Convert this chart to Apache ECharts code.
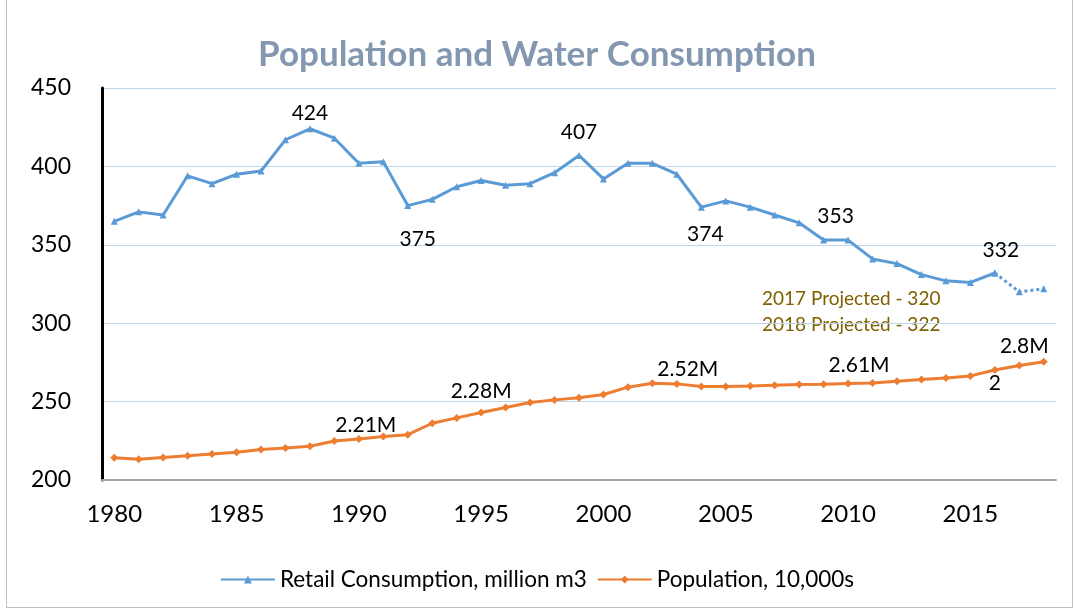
<!DOCTYPE html>
<html>
<head>
<meta charset="utf-8">
<script src="https://cdn.jsdelivr.net/npm/echarts@6/dist/echarts.min.js"></script>
<style>
html,body{margin:0;padding:0;background:#fff;}
#frame{position:absolute;left:6px;top:-2px;width:1065px;height:608px;border:1px solid #BFBFBF;}
#chart{width:1074px;height:608px;position:absolute;left:0;top:0;}
</style>
</head>
<body>
<div id="frame"></div>
<div id="chart"></div>
<script>
// ---- data ----
const years = [1980,1981,1982,1983,1984,1985,1986,1987,1988,1989,1990,1991,1992,1993,1994,1995,1996,1997,1998,1999,
  2000,2001,2002,2003,2004,2005,2006,2007,2008,2009,2010,2011,2012,2013,2014,2015,2016,2017,2018];
const consumption = [365,371,369,394,389,395,397,417,424,418,402,403,375,379,387,391,388,389,396,407,
  392,402,402,395,374,378,374,369,364,353,353,341,338,331,327,326,332,null,null];
const consumptionProjected = [320,322]; // 2017, 2018
const population = [214.2,213.3,214.3,215.5,216.6,217.7,219.4,220.4,221.5,224.9,226.2,227.7,228.9,236.2,239.6,243.0,246.2,249.4,251.1,252.4,
  254.5,259.2,261.7,261.3,259.6,259.6,260.0,260.5,260.9,261.1,261.5,261.9,263.0,264.1,265.1,266.4,270.2,273.0,275.4];
const consLabelYears = [1988,1992,1999,2004,2009,2016];
const consLabelTexts = ['424','375','407','374','353','332'];
const popLabelYears = [1990,1995,2003,2010,2016,2017];
const popLabelTexts = ['2.21M','2.28M','2.52M','2.61M','2','2.8M'];
const yTicks = {min:200, max:450, interval:50};
const titleText = 'Population and Water Consumption';
const seriesNames = ['Retail Consumption, million m3','Population, 10,000s'];
const notes = ['2017 Projected - 320','2018 Projected - 322'];

// ---- styles for labels (positions only) ----
const consLabelStyle = {
  1988:{position:'top',offset:[0,3]},
  1992:{position:'bottom',offset:[10,15]},
  1999:{position:'top',offset:[0,-4]},
  2004:{position:'bottom',offset:[4,8]},
  2009:{position:'top',offset:[12,-5]},
  2016:{position:'top',offset:[6,-4]}
};
const popLabelStyle = {
  1990:{position:'top',offset:[7,6]},
  1995:{position:'top',offset:[0,-2]},
  2003:{position:'top',offset:[11,5]},
  2010:{position:'top',offset:[11,1]},
  2016:{position:'bottom',offset:[0,-6]},
  2017:{position:'top',offset:[5,0]}
};

const FONT = 'Lato, "Open Sans", sans-serif';
const BLUE = '#5B9BD5', ORANGE = '#ED7D31';

function build(values, lblYears, lblTexts, styleMap) {
  return values.map((v, i) => {
    const y = years[i];
    const k = lblYears.indexOf(y);
    if (k < 0 || v == null) return v;
    const st = styleMap[y] || {position:'top'};
    return {value: v, label: {show:true, formatter: lblTexts[k], position: st.position, offset: st.offset,
      color:'#000', fontSize:21, fontFamily:FONT}};
  });
}

const projData = years.map((y, i) => {
  if (y === 2016) return consumption[i];
  if (y === 2017) return consumptionProjected[0];
  if (y === 2018) return consumptionProjected[1];
  return null;
});

const chart = echarts.init(document.getElementById('chart'));
chart.setOption({
  animation:false,
  title:{text:titleText,left:'center',top:32,
    textStyle:{fontFamily:FONT,fontSize:35,fontWeight:'bold',color:'#8497B0'}},
  grid:{left:102,right:18,top:88,bottom:128},
  legend:{bottom:12,left:'center',itemWidth:54,itemHeight:10,itemGap:10,
    data:seriesNames,
    textStyle:{fontFamily:FONT,fontSize:22.5,color:'#000',padding:[0,0,0,0]}},
  xAxis:{type:'category',data:years.map(String),boundaryGap:true,
    axisLine:{lineStyle:{color:'#A6A6A6',width:2}},
    axisTick:{interval:0,length:8,lineStyle:{color:'#A6A6A6',width:2}},
    axisLabel:{interval:4,margin:22,color:'#000',fontSize:24,fontFamily:FONT}},
  yAxis:{type:'value',min:yTicks.min,max:yTicks.max,interval:yTicks.interval,
    axisLine:{show:true,lineStyle:{color:'#000',width:3}},
    axisTick:{show:false},
    axisLabel:{margin:31,color:'#000',fontSize:23,fontFamily:FONT},
    splitLine:{lineStyle:{color:'#BDD7EE',width:1}}},
  graphic:[
    {type:'text',left:762,top:289,style:{text:notes[0],fill:'#7F6000',fontSize:19,fontFamily:FONT}},
    {type:'text',left:762,top:315,style:{text:notes[1],fill:'#7F6000',fontSize:19,fontFamily:FONT}}
  ],
  series:[
    {name:seriesNames[0],type:'line',data:build(consumption,consLabelYears,consLabelTexts,consLabelStyle),
      symbol:'triangle',symbolSize:7,itemStyle:{color:BLUE},lineStyle:{color:BLUE,width:3},z:3},
    {name:'proj',type:'line',data:projData,symbol:'triangle',symbolSize:7,
      itemStyle:{color:BLUE},lineStyle:{color:BLUE,width:3,type:'dotted'},z:2},
    {name:seriesNames[1],type:'line',data:build(population,popLabelYears,popLabelTexts,popLabelStyle),
      symbol:'diamond',symbolSize:8,itemStyle:{color:ORANGE},lineStyle:{color:ORANGE,width:3},z:3}
  ]
});
</script>
</body>
</html>
